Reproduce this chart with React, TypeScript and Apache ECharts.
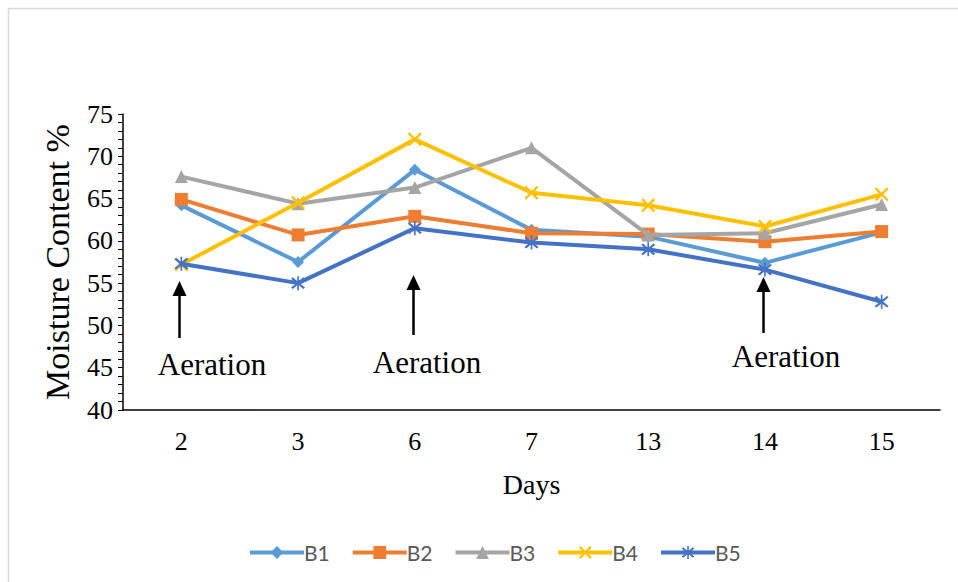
import React, { useEffect, useRef } from "react";
import * as echarts from "echarts";

const days = ["2", "3", "6", "7", "13", "14", "15"];
const b1 = [64.2, 57.5, 68.4, 61.3, 60.5, 57.4, 61.0];
const b2 = [64.9, 60.7, 62.9, 60.9, 60.8, 59.9, 61.1];
const b3 = [67.6, 64.4, 66.3, 71.0, 60.7, 60.9, 64.3];
const b4 = [57.2, 64.5, 72.0, 65.7, 64.2, 61.7, 65.5];
const b5 = [57.3, 55.0, 61.5, 59.8, 59.0, 56.6, 52.8];
const seriesNames = ["B1", "B2", "B3", "B4", "B5"];
const yTicks = { min: 40, max: 75, step: 5 };
const aerationDays = ["2", "6", "14"];

const X_PATH =
  "path://M0,1.2 L1.2,0 L5,3.8 L8.8,0 L10,1.2 L6.2,5 L10,8.8 L8.8,10 L5,6.2 L1.2,10 L0,8.8 L3.8,5 Z";
const STAR_PATH =
  "path://M0,1.2 L1.2,0 L5,3.8 L8.8,0 L10,1.2 L6.2,5 L10,8.8 L8.8,10 L5,6.2 L1.2,10 L0,8.8 L3.8,5 Z M4.4,-1 L5.6,-1 L5.6,11 L4.4,11 Z";

export default function App() {
  const ref = useRef<HTMLDivElement>(null);
  useEffect(() => {
    if (!ref.current) return;
    const chart = echarts.init(ref.current, null, { renderer: "svg" });
    const serif = "Liberation Serif";
    const colors = ["#5B9BD5", "#ED7D31", "#A5A5A5", "#FFC000", "#4472C4"];
    const data = [b1, b2, b3, b4, b5];
    const symbols = ["diamond", "rect", "triangle", X_PATH, STAR_PATH];
    const sizes = [12, 13, 13, 14, 14];
    chart.setOption({
      animation: false,
      color: colors,
      grid: { left: 123, right: 18, top: 114, bottom: 172, containLabel: false },
      xAxis: {
        type: "category",
        data: days,
        boundaryGap: true,
        name: "Days",
        nameLocation: "middle",
        nameGap: 60,
        nameTextStyle: { fontFamily: serif, fontSize: 28, color: "#000" },
        axisLine: { lineStyle: { color: "#000", width: 1.5 } },
        axisTick: { show: false },
        axisLabel: { fontFamily: serif, fontSize: 26, color: "#000", margin: 18 },
      },
      yAxis: {
        type: "value",
        min: yTicks.min,
        max: yTicks.max,
        interval: yTicks.step,
        name: "Moisture Content %",
        nameLocation: "middle",
        nameGap: 49,
        nameTextStyle: { fontFamily: serif, fontSize: 34, color: "#000" },
        axisLine: { show: true, lineStyle: { color: "#000", width: 1.5 } },
        axisTick: { show: true, length: 5, lineStyle: { color: "#000", width: 1 } },
        minorTick: { show: true, splitNumber: 5, length: 5, lineStyle: { color: "#000", width: 1 } },
        splitLine: { show: false },
        axisLabel: { fontFamily: serif, fontSize: 26, color: "#000", margin: 10 },
      },
      legend: {
        data: seriesNames,
        left: 243,
        top: 537,
        itemWidth: 54,
        itemHeight: 16,
        itemGap: 21,
        lineStyle: { width: 4 },
        textStyle: { fontFamily: "Lato", fontSize: 21, color: "#595959", padding: [0, 0, 0, -5] },
      },
      series: seriesNames.map((n, i) => ({
        name: n,
        type: "line",
        data: data[i],
        symbol: symbols[i],
        symbolSize: sizes[i],
        showAllSymbol: true,
        lineStyle: { width: 4, color: colors[i] },
        itemStyle: { color: colors[i] },
        z: 2 + i,
      })),
    });

    const arrows = [
      { day: aerationDays[0], top: 281, bottom: 338, tx: 212, ty: 364 },
      { day: aerationDays[1], top: 275, bottom: 335, tx: 427, ty: 362 },
      { day: aerationDays[2], top: 277, bottom: 333, tx: 786, ty: 356 },
    ];
    const graphics: any[] = [
      {
        type: "rect",
        shape: { x: 8.5, y: 8.5, width: 1000, height: 1000 },
        style: { fill: "none", stroke: "#d9d9d9", lineWidth: 1.5 },
        silent: true,
        z: -1,
      },
    ];
    arrows.forEach((a) => {
      const x = chart.convertToPixel({ xAxisIndex: 0 }, a.day) as number;
      const ax = Math.round(x) - 1.5;
      graphics.push({
        type: "line",
        shape: { x1: ax, y1: a.top + 10, x2: ax, y2: a.bottom },
        style: { stroke: "#000", lineWidth: 2.5 },
      });
      graphics.push({
        type: "polygon",
        shape: { points: [[ax, a.top], [ax - 7, a.top + 15], [ax + 7, a.top + 15]] },
        style: { fill: "#000" },
      });
      graphics.push({
        type: "text",
        x: a.tx,
        y: a.ty,
        style: {
          text: "Aeration",
          font: `31px ${serif}`,
          fill: "#000",
          align: "center",
          verticalAlign: "middle",
        },
      });
    });
    chart.setOption({ graphic: graphics });
    return () => chart.dispose();
  }, []);
  return (
    <div
      ref={ref}
      style={{ position: "fixed", left: 0, top: 0, width: 958, height: 582, background: "#fff" }}
    />
  );
}
